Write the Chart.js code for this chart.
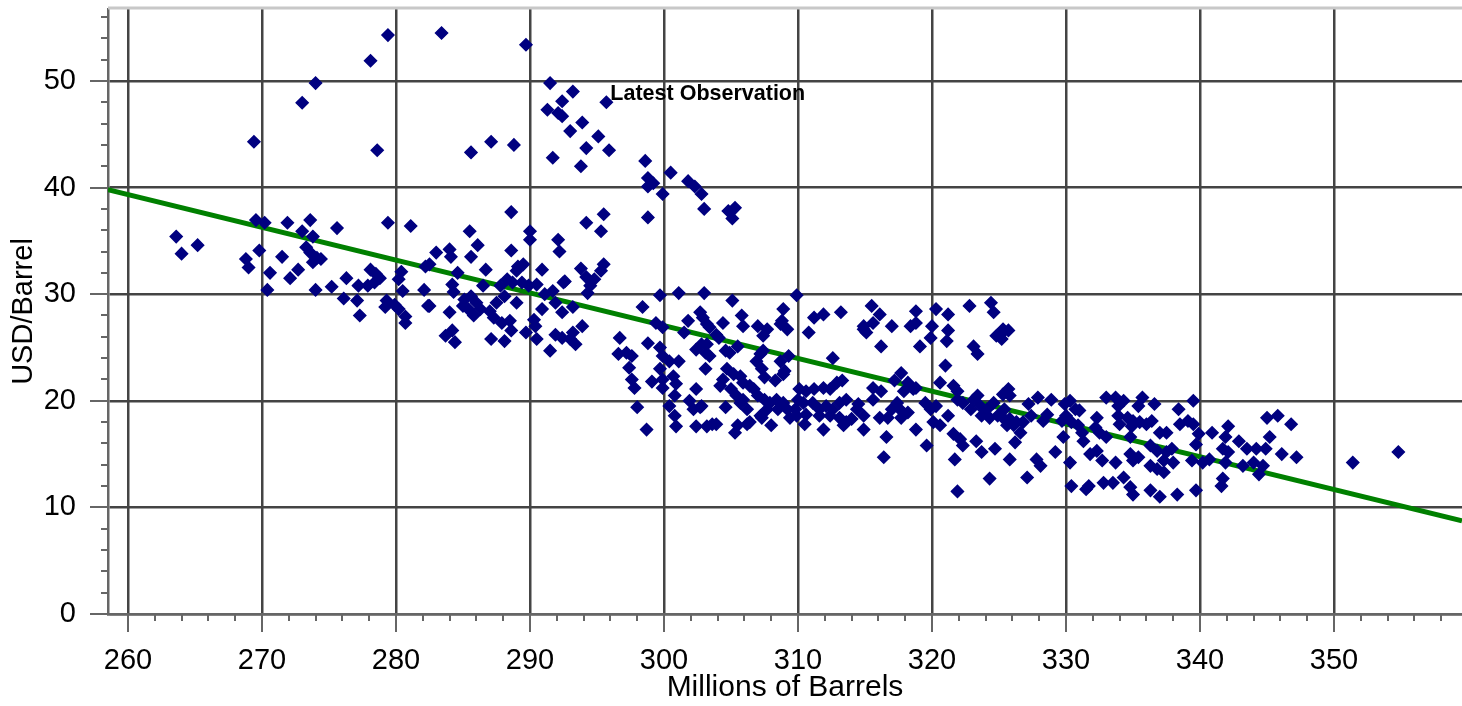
<!DOCTYPE html>
<html>
<head>
<meta charset="utf-8">
<script src="https://cdn.jsdelivr.net/npm/chart.js@4"></script>
<style>
  html, body { margin: 0; padding: 0; background: #fff; overflow: hidden; }
  #wrap { width: 1462px; height: 706px; position: relative; }
  #wrap canvas { display: block; }
</style>
</head>
<body>
<div id="wrap"><canvas id="inventoryChart"></canvas></div>
<script>
// Crude inventories (millions of barrels) vs. price (USD/barrel), one entry per week.
// The last entry is the latest observation.
const inventoryMb = [
  263.6, 264.0, 265.2, 268.8, 269.0, 269.4, 269.55, 270.2, 269.8, 270.4,
  270.6, 271.5, 271.9, 272.1, 272.7, 273.0, 273.0, 273.3, 273.6, 273.6,
  273.8, 273.8, 274.0, 274.0, 274.1, 274.4, 275.2, 275.6, 276.1, 276.3,
  277.1, 277.2, 277.3, 277.9, 278.1, 278.1, 278.4, 278.5, 278.6, 278.8,
  279.2, 279.3, 279.4, 279.4, 279.9, 280.2, 280.2, 280.4, 280.5, 280.7,
  280.7, 281.1, 282.1, 282.2, 282.4, 283.4, 289.7, 291.5, 293.2, 292.4,
  291.3, 292.1, 292.4, 293.9, 293.0, 295.1, 294.2, 295.9, 291.7, 293.8,
  285.6, 287.1, 288.8, 298.6, 298.8, 299.2, 298.8, 299.9, 300.5, 301.8,
  302.3, 302.8, 303.0, 298.8, 288.6, 294.2, 295.5, 295.3, 285.5, 286.1,
  285.6, 290.0, 290.0, 292.1, 292.2, 288.6, 283.0, 284.0, 284.1, 282.5,
  284.6, 286.7, 289.1, 289.5, 289.0, 290.9, 293.8, 295.5, 295.3, 294.2,
  294.8, 294.5, 294.3, 292.5, 284.2, 284.3, 282.5, 284.0, 285.1, 285.6,
  286.0, 285.4, 286.3, 287.0, 287.5, 287.8, 288.3, 288.7, 288.1, 289.0,
  287.3, 287.9, 288.5, 288.6, 289.4, 289.9, 290.5, 286.5, 285.8, 285.0,
  283.7, 284.4, 284.2, 287.1, 288.1, 289.7, 290.4, 290.5, 290.3, 290.9,
  291.1, 291.7, 291.9, 292.4, 292.6, 291.5, 291.9, 292.4, 293.0, 293.4,
  293.2, 293.9, 293.2, 299.7, 301.1, 303.0, 298.4, 299.4, 299.9, 301.5,
  301.8, 302.7, 303.2, 302.4, 303.2, 296.7, 298.8, 296.6, 297.2, 297.6,
  297.4, 297.6, 297.8, 298.0, 298.7, 299.7, 299.9, 300.4, 301.1, 299.7,
  299.9, 300.7, 300.9, 299.1, 299.9, 300.8, 300.4, 300.8, 300.9, 301.9,
  302.4, 302.7, 302.2, 303.2, 302.4, 303.1, 303.1, 304.8, 305.3, 305.1,
  305.1, 309.9, 308.9, 313.2, 315.5, 316.1, 315.6, 314.9, 315.1, 311.2,
  311.9, 318.8, 320.3, 321.2, 322.8, 324.4, 324.6, 302.9, 305.8, 305.9,
  304.4, 303.4, 307.0, 307.7, 307.4, 308.7, 309.2, 308.8, 310.8, 317.0,
  318.4, 318.8, 320.0, 321.2, 321.1, 319.9, 319.1, 323.1, 323.4, 324.8,
  316.2, 314.9, 312.6, 321.0, 303.9, 304.1, 302.8, 303.4, 305.5, 304.9,
  304.6, 307.2, 306.9, 307.4, 308.7, 309.3, 309.0, 304.7, 305.2, 305.7,
  304.4, 304.2, 305.9, 305.0, 306.4, 307.3, 307.5, 308.3, 308.9, 305.4,
  305.9, 306.7, 307.0, 307.5, 307.9, 308.4, 308.9, 309.2, 308.5, 307.7,
  307.2, 306.2, 305.7, 304.6, 302.8, 303.6, 303.9, 305.3, 305.5, 306.2,
  306.4, 307.3, 308.0, 309.4, 309.9, 310.1, 310.6, 311.2, 311.9, 312.4,
  312.9, 313.3, 313.6, 313.1, 312.6, 312.1, 311.6, 311.1, 310.4, 310.0,
  309.8, 310.6, 311.6, 312.4, 313.1, 313.6, 314.0, 313.4, 310.5, 311.9,
  314.5, 314.9, 314.4, 314.9, 315.6, 316.2, 315.6, 316.1, 316.7, 317.0,
  317.4, 317.7, 317.2, 317.9, 318.6, 318.2, 318.8, 316.6, 316.4, 317.6,
  318.2, 317.7, 318.8, 319.5, 319.9, 320.3, 320.6, 321.6, 321.9, 319.6,
  320.1, 320.6, 321.2, 321.6, 322.1, 322.3, 321.7, 321.9, 322.3, 323.1,
  323.4, 323.6, 324.1, 324.6, 324.9, 324.3, 323.7, 322.9, 323.3, 323.7,
  324.7, 321.9, 324.3, 325.3, 325.7, 325.2, 325.1, 325.7, 325.8, 325.3,
  325.4, 325.3, 325.8, 325.6, 326.1, 326.6, 326.3, 326.8, 327.4, 327.2,
  327.9, 328.3, 328.6, 328.9, 326.2, 325.8, 327.1, 327.8, 328.1, 329.2,
  329.8, 330.3, 330.4, 329.9, 330.3, 330.7, 331.0, 330.0, 329.7, 330.4,
  330.9, 331.2, 331.3, 331.7, 331.5, 331.8, 332.3, 332.7, 332.3, 332.2,
  332.5, 333.0, 333.7, 332.8, 333.5, 334.3, 334.8, 335.0, 336.3, 337.0,
  338.3, 339.7, 333.0, 333.7, 334.3, 333.9, 335.4, 335.7, 336.6, 333.9,
  334.0, 334.6, 335.0, 334.9, 335.5, 336.0, 336.4, 334.8, 334.8, 335.0,
  335.4, 336.3, 336.8, 337.5, 337.3, 336.3, 336.8, 337.3, 338.0, 337.9,
  337.5, 337.0, 338.5, 338.4, 339.1, 339.5, 339.5, 339.9, 339.7, 339.4,
  340.2, 340.7, 340.9, 341.7, 342.1, 341.9, 342.1, 341.9, 341.7, 341.6,
  342.9, 343.5, 344.2, 344.9, 345.2, 343.2, 344.0, 344.7, 344.4, 345.0,
  345.8, 346.8, 346.1, 347.2, 351.4, 354.8, 295.7
];
const priceUsd = [
  35.4, 33.8, 34.6, 33.3, 32.5, 44.3, 36.95, 36.7, 34.1, 30.4,
  32.0, 33.5, 36.7, 31.5, 32.3, 47.96, 35.9, 34.4, 36.95, 33.9,
  35.4, 33.0, 49.8, 30.4, 33.4, 33.3, 30.7, 36.2, 29.6, 31.5,
  29.4, 30.8, 28.0, 30.8, 51.9, 32.3, 31.1, 31.9, 43.5, 31.5,
  28.8, 29.4, 54.3, 36.7, 29.0, 28.6, 31.4, 32.1, 30.3, 27.9,
  27.3, 36.4, 30.4, 32.6, 28.9, 54.5, 53.4, 49.8, 49.0, 48.1,
  47.3, 47.0, 46.7, 46.1, 45.3, 44.8, 43.7, 43.5, 42.8, 42.0,
  43.3, 44.3, 44.0, 42.5, 40.9, 40.4, 40.1, 39.4, 41.4, 40.6,
  40.1, 39.4, 38.0, 37.2, 37.7, 36.7, 37.5, 35.9, 35.9, 34.6,
  33.5, 35.9, 35.1, 35.1, 34.0, 34.1, 33.9, 34.2, 33.5, 32.8,
  32.0, 32.3, 32.6, 32.8, 32.2, 32.3, 32.4, 32.8, 32.2, 31.6,
  31.4, 30.8, 30.1, 31.1, 30.9, 30.2, 28.9, 28.3, 29.5, 29.8,
  29.2, 28.6, 28.6, 28.4, 29.2, 30.8, 31.4, 31.1, 29.8, 29.2,
  27.8, 27.3, 27.5, 26.6, 31.1, 30.8, 30.9, 30.8, 28.0, 28.9,
  26.1, 25.5, 26.6, 25.8, 25.6, 26.4, 27.0, 25.8, 27.6, 28.6,
  30.0, 30.3, 29.2, 28.3, 31.2, 24.7, 26.2, 25.9, 25.8, 25.3,
  26.4, 27.0, 28.8, 29.9, 30.1, 30.1, 28.8, 27.3, 26.9, 26.4,
  27.5, 28.3, 27.2, 24.8, 25.3, 25.9, 25.4, 24.4, 24.5, 24.2,
  23.1, 22.0, 21.2, 19.4, 17.3, 25.0, 24.2, 23.7, 23.7, 23.0,
  22.0, 22.3, 21.6, 21.8, 21.2, 20.5, 19.5, 18.6, 17.6, 20.0,
  21.1, 19.4, 19.2, 17.6, 17.6, 23.0, 24.5, 37.8, 38.1, 37.1,
  29.4, 29.9, 28.6, 28.3, 28.9, 28.1, 27.3, 27.0, 26.4, 27.8,
  28.1, 28.4, 28.6, 28.1, 28.9, 29.2, 28.3, 27.8, 28.0, 27.0,
  27.3, 26.9, 27.0, 26.7, 26.1, 27.2, 26.7, 27.5, 26.4, 27.0,
  27.0, 27.3, 27.0, 26.6, 25.6, 25.9, 25.1, 25.1, 24.4, 26.1,
  25.1, 26.7, 24.0, 23.3, 26.2, 25.9, 25.3, 24.2, 25.1, 24.5,
  24.7, 24.4, 23.7, 24.7, 23.7, 24.2, 22.8, 23.0, 22.5, 22.3,
  22.0, 21.4, 21.7, 21.1, 21.4, 23.0, 22.2, 21.9, 22.5, 20.5,
  20.1, 21.1, 20.5, 20.1, 19.8, 20.1, 19.8, 19.2, 19.2, 19.2,
  18.6, 19.2, 19.8, 19.4, 19.5, 17.8, 17.8, 17.0, 17.7, 17.8,
  18.0, 18.4, 17.7, 18.4, 18.6, 21.1, 20.9, 21.1, 21.2, 21.1,
  21.7, 21.9, 20.1, 19.8, 19.2, 19.5, 19.2, 19.8, 19.8, 20.1,
  19.2, 18.7, 18.6, 18.6, 18.4, 18.0, 18.3, 17.7, 17.8, 17.3,
  19.7, 18.6, 19.2, 17.3, 21.2, 20.9, 20.1, 18.4, 18.4, 19.2,
  19.8, 22.6, 21.9, 20.9, 21.1, 21.7, 21.2, 16.6, 14.7, 19.2,
  18.9, 18.4, 17.3, 19.8, 19.2, 19.5, 21.7, 21.4, 20.9, 15.8,
  18.0, 17.7, 18.6, 16.9, 16.4, 15.8, 14.5, 20.1, 19.8, 20.1,
  20.5, 19.5, 19.2, 19.8, 18.6, 18.4, 18.6, 19.2, 16.2, 15.2,
  15.5, 11.5, 12.7, 26.7, 26.6, 25.8, 26.2, 21.1, 20.5, 20.6,
  19.2, 18.4, 18.3, 17.7, 17.7, 17.0, 18.0, 18.0, 18.6, 19.7,
  20.3, 18.1, 18.7, 20.1, 16.1, 14.5, 12.8, 14.5, 13.9, 15.2,
  16.6, 14.2, 12.0, 19.7, 20.0, 19.2, 19.1, 18.6, 18.1, 18.0,
  17.7, 17.0, 16.2, 12.0, 11.7, 15.0, 15.3, 14.4, 18.4, 17.5,
  17.0, 16.6, 14.2, 12.3, 12.3, 12.8, 11.9, 11.2, 11.6, 11.0,
  11.2, 11.6, 20.3, 20.3, 20.0, 19.5, 19.5, 20.3, 19.7, 18.6,
  17.8, 18.4, 18.1, 17.6, 18.0, 17.8, 18.1, 16.6, 15.0, 14.4,
  14.7, 15.8, 15.3, 15.2, 14.4, 13.9, 13.6, 13.3, 14.2, 15.5,
  17.0, 17.0, 17.8, 19.2, 18.1, 17.8, 20.0, 16.9, 15.9, 14.4,
  14.2, 14.5, 17.0, 15.5, 15.2, 14.2, 17.6, 16.6, 12.7, 12.0,
  16.2, 15.5, 15.5, 15.5, 16.6, 13.9, 14.2, 13.9, 13.1, 18.4,
  18.6, 17.8, 15.0, 14.7, 14.2, 15.2, 48.0
];

// Fitted trend line, end points at the plot edges
const trendX = [258.5, 359.55];
const trendY = [39.8, 8.75];

const xRange = [258.51, 359.55];
const yRange = [0, 56.75];

const FONT = "'Liberation Sans', Arial, Helvetica, sans-serif";
const isMajor = v => Math.abs(v / 10 - Math.round(v / 10)) < 1e-6;

const scatterPoints = inventoryMb.map((x, i) => ({ x: x, y: priceUsd[i] }));
const trendPoints = trendX.map((x, i) => ({ x: x, y: trendY[i] }));

// axis tick marks (long at multiples of 10), top frame line and the latest-point note
const chartExtras = {
  id: 'chartExtras',
  afterDraw(chart) {
    const { ctx, chartArea, scales: { x, y } } = chart;
    ctx.save();
    ctx.strokeStyle = '#666';
    ctx.lineWidth = 2;
    x.ticks.forEach(t => {
      const px = Math.round(x.getPixelForValue(t.value));
      const len = isMajor(t.value) ? 18 : 7;
      ctx.beginPath();
      ctx.moveTo(px, chartArea.bottom);
      ctx.lineTo(px, chartArea.bottom + len);
      ctx.stroke();
    });
    y.ticks.forEach(t => {
      const py = Math.round(y.getPixelForValue(t.value));
      const len = isMajor(t.value) ? 18 : 7;
      ctx.beginPath();
      ctx.moveTo(chartArea.left, py);
      ctx.lineTo(chartArea.left - len, py);
      ctx.stroke();
    });

    ctx.strokeStyle = '#c8c8c8';
    ctx.lineWidth = 3;
    ctx.beginPath();
    ctx.moveTo(chartArea.left, chartArea.top - 1);
    ctx.lineTo(chartArea.right, chartArea.top - 1);
    ctx.stroke();

    const last = inventoryMb.length - 1;
    const lx = x.getPixelForValue(inventoryMb[last]);
    const ly = y.getPixelForValue(priceUsd[last]);
    ctx.fillStyle = '#000';
    ctx.font = 'bold 21.5px ' + FONT;
    ctx.textAlign = 'left';
    ctx.textBaseline = 'alphabetic';
    ctx.fillText('Latest Observation', lx + 4, ly - 2);
    ctx.restore();
  }
};

const ctx = document.getElementById('inventoryChart').getContext('2d');
new Chart(ctx, {
  type: 'scatter',
  data: {
    datasets: [
      {
        label: 'Weekly observations',
        data: scatterPoints,
        pointStyle: 'rectRot',
        pointRadius: 6,
        pointBorderWidth: 1.5,
        backgroundColor: '#000080',
        borderColor: '#000080',
        order: 1
      },
      {
        label: 'Trend',
        type: 'line',
        data: trendPoints,
        borderColor: '#008000',
        borderWidth: 5,
        pointRadius: 0,
        fill: false,
        order: 2
      }
    ]
  },
  options: {
    responsive: true,
    maintainAspectRatio: false,
    animation: false,
    layout: { autoPadding: false, padding: { top: 9, left: 0, right: 0, bottom: 0 } },
    plugins: {
      legend: { display: false },
      tooltip: { enabled: false }
    },
    scales: {
      x: {
        type: 'linear',
        min: xRange[0],
        max: xRange[1],
        afterFit: scale => {
          scale.height = 92;
          scale.paddingLeft = 0;
          scale.paddingRight = 0;
        },
        ticks: {
          stepSize: 2,
          includeBounds: false,
          autoSkip: false,
          maxRotation: 0,
          padding: 2,
          color: '#000',
          font: { family: FONT, size: 29 },
          callback: v => (isMajor(v) ? Math.round(v) : '')
        },
        grid: {
          drawTicks: true,
          tickLength: 28,
          tickColor: 'rgba(0,0,0,0)',
          lineWidth: 2.5,
          color: c => (c.tick && isMajor(c.tick.value) ? '#444' : 'rgba(0,0,0,0)')
        },
        border: { color: '#666', width: 2.5 },
        title: {
          display: true,
          text: 'Millions of Barrels',
          color: '#000',
          font: { family: FONT, size: 30 },
          padding: { top: 0, bottom: 0 }
        }
      },
      y: {
        type: 'linear',
        min: yRange[0],
        max: yRange[1],
        afterFit: scale => {
          scale.width = 108;
          scale.paddingTop = 0;
          scale.paddingBottom = 0;
        },
        ticks: {
          stepSize: 2,
          includeBounds: false,
          autoSkip: false,
          padding: 32,
          color: '#000',
          font: { family: FONT, size: 29 },
          callback: v => (isMajor(v) ? Math.round(v) : '')
        },
        grid: {
          drawTicks: false,
          lineWidth: 2.5,
          color: c => (c.tick && isMajor(c.tick.value) ? '#444' : 'rgba(0,0,0,0)')
        },
        border: { color: '#666', width: 2.5 },
        title: {
          display: true,
          text: 'USD/Barrel',
          color: '#000',
          font: { family: FONT, size: 29 },
          padding: { top: 7, bottom: 0 }
        }
      }
    }
  },
  plugins: [chartExtras]
});
</script>
</body>
</html>
